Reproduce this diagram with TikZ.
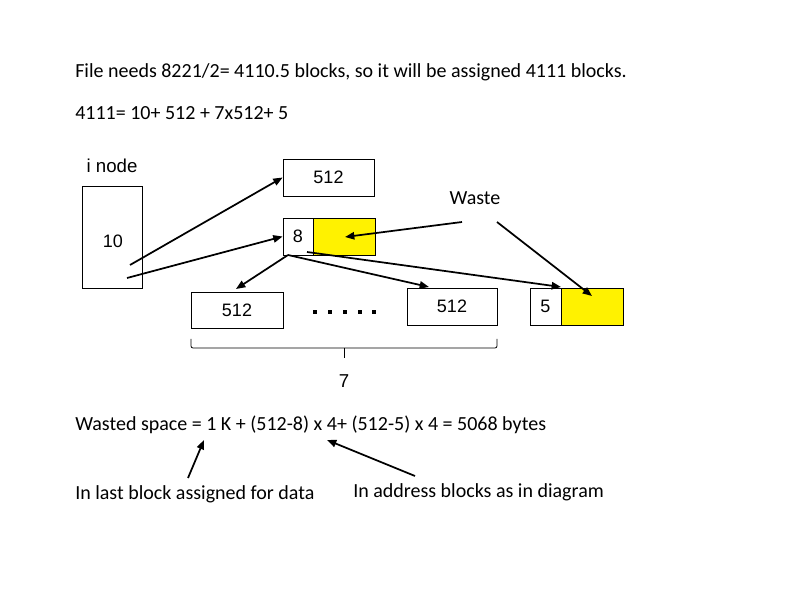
\documentclass[tikz,border=0pt]{standalone}
\usepackage{fontspec}
\setmainfont{Carlito}
\newfontfamily\arialf{Liberation Sans}
\usetikzlibrary{arrows.meta}
\begin{document}
\begin{tikzpicture}[x=0.75pt,y=-0.75pt,
  box/.style={draw=black, line width=0.6pt, inner sep=0pt, font=\arialf\fontsize{13.5}{15}\selectfont},
  wh/.style 2 args={minimum width=#1*0.75pt, minimum height=#2*0.75pt},
  yel/.style={fill=yellow},
  txt/.style={font=\fontsize{15}{18}\selectfont, anchor=west, inner sep=0pt},
  atxt/.style={font=\arialf\fontsize{13.5}{15}\selectfont, inner sep=0pt},
  arr/.style={line width=1.3pt, -{Triangle[length=7pt,width=5.5pt]}},
  thin/.style={line width=0.6pt}]
\useasboundingbox (0,0) rectangle (794,595);
% texts
\node[txt] (t1) at (75,72) {File needs 8221/2= 4110.5 blocks, so it will be assigned 4111 blocks.};
\node[txt] (t2) at (75,113) {4111= 10+ 512 + 7x512+ 5};
\node[atxt, font=\arialf\fontsize{14}{16}\selectfont] (inl) at (112,166) {i node};
\node[txt, anchor=center] (waste) at (475,198) {Waste};
\node[txt] (t3) at (75,425) {Wasted space = 1 K + (512-8) x 4+ (512-5) x 4 = 5068 bytes};
\node[txt] (t4) at (75,494) {In last block assigned for data};
\node[txt] (t5) at (353,492) {In address blocks as in diagram};
% boxes
\node[box, wh={60}{102}] (inode) at (112,237) {};
\node[atxt] (ten) at (113,241) {10};
\node[box, wh={91}{37}] (top) at (328.5,177.5) {512};
\node[box, wh={30}{37}] (b8) at (298,236.5) {8};
\node[box, yel, wh={62}{37}] (b8y) at (344,236.5) {};
\node[box, wh={92}{36}] (bl) at (237,310) {512};
\node[box, wh={90}{37}] (br) at (452,306.5) {512};
\node[box, wh={31}{37}] (b5) at (545.5,306.5) {5};
\node[box, yel, wh={62}{37}] (b5y) at (592,306.5) {};
% dots
\foreach \i/\xx in {1/315,2/330,3/345,4/360,5/374}
  \fill (\xx-1.8,310.2) rectangle (\xx+1.8,313.8);
% brace
\draw[thin, rounded corners=1.5pt] (191,339) -- (191,348) -- (497,348) -- (497,339);
\draw[thin] (344,348) -- (344,358);
\node[atxt, font=\arialf\fontsize{14}{16}\selectfont] (seven) at (344,381) {7};
% coordinates
\coordinate (s1) at (130,265);
\coordinate (s2) at (127,278);
\coordinate (s3) at (288,255);
\coordinate (s4) at (307,252);
\coordinate (e3) at (236,289);
\coordinate (e4) at (429,287);
\coordinate (e5) at (561,287);
\coordinate (w1) at (462,222);
\coordinate (w2) at (497,222);
\coordinate (we1) at (345,237);
\coordinate (we2) at (592,296);
\coordinate (a1s) at (188,478);
\coordinate (a1e) at (204,440);
\coordinate (a2s) at (415,476);
\coordinate (a2e) at (327,440);
% arrows
\draw[arr] (s1) -- (top.west);
\draw[arr] (s2) -- (b8.west);
\draw[arr] (s3) -- (e3);
\draw[arr] (s3) -- (e4);
\draw[arr] (s4) -- (e5);
\draw[arr] (w1) -- (we1);
\draw[arr] (w2) -- (we2);
\draw[arr] (a1s) -- (a1e);
\draw[arr] (a2s) -- (a2e);
\end{tikzpicture}
\end{document}
